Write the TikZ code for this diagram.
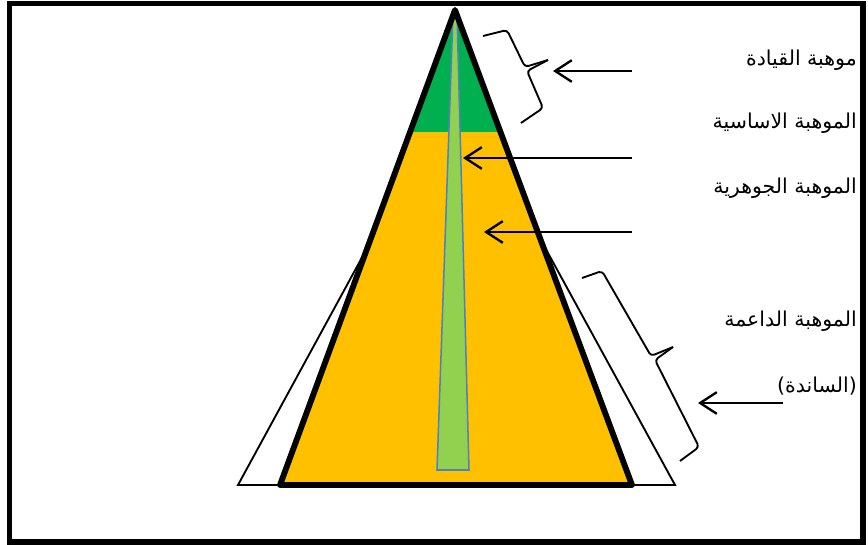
\documentclass[tikz,border=0pt]{standalone}
\usepackage{fontspec}
\newfontfamily\arabicfont[Script=Arabic]{DejaVu Sans}
\TeXXeTstate=1
\usepackage{tikz}
\usetikzlibrary{arrows.meta}

\definecolor{topgreen}{HTML}{00B050}
\definecolor{coreorange}{HTML}{FFC000}
\definecolor{stemgreen}{HTML}{92D050}
\definecolor{stemblue}{HTML}{4F81BD}

\begin{document}
\begin{tikzpicture}[
        x=0.03cm, y=-0.03cm,
        txt/.style={anchor=east, inner sep=0pt,
                    font=\arabicfont\fontsize{17.5}{20}\selectfont},
        arr/.style={-{Straight Barb[length=5mm, width=6.5mm]}, line width=2pt},
        brc/.style={line width=1.6pt, rounded corners=3pt}
    ]
    \useasboundingbox (0,0) rectangle (868,545);
    % Frame
    \draw[line width=4.5pt] (9.5,3.5) rectangle (863,542);

    % Pyramid
    \coordinate (apex) at (455,10);
    \coordinate (bl) at (280,485);
    \coordinate (br) at (632,485);
    \draw[line width=1.6pt, fill=white] (238,485) -- (456,85) -- (675,485) -- cycle;
    \fill[coreorange] (apex) -- (bl) -- (br) -- cycle;
    \begin{scope}
        \clip (apex) -- (bl) -- (br) -- cycle;
        \fill[topgreen] (0,0) rectangle (868,132);
    \end{scope}
    \draw[stemblue, line width=1.3pt, fill=stemgreen]
        (453,14) -- (457,14) -- (469,470) -- (437,470) -- cycle;
    \draw[line width=5pt, line join=round] (apex) -- (bl) -- (br) -- cycle;

    % Braces
    \draw[brc] (483,36) -- (507,30) -- (525,67) -- (548,60);
    \draw[brc] (548,60) -- (527,71) -- (543,108) -- (521,123);
    \draw[brc] (582,278) -- (602,271) -- (651,356) -- (673,347);
    \draw[brc] (673,347) -- (655,360) -- (699,447) -- (680,461);

    % Labels
    \node[txt] (lead)  at (857,60)  {\beginR موهبة القيادة\endR};
    \node[txt] (basic) at (857,123) {\beginR الموهبة الاساسية\endR};
    \node[txt] (core)  at (857,188) {\beginR الموهبة الجوهرية\endR};
    \node[txt] (supp)  at (857,321) {\beginR الموهبة الداعمة\endR};
    \node[txt] (back)  at (857,386) {\beginR (الساندة)\endR};

    % Arrows
    \coordinate (l1) at (632,71);  \coordinate (t1) at (553,71);
    \coordinate (l2) at (632,158); \coordinate (t2) at (463,158);
    \coordinate (l3) at (632,232); \coordinate (t3) at (484,232);
    \coordinate (l4) at (783,403); \coordinate (t4) at (698,403);
    \draw[arr] (l1) -- (t1); \draw[arr] (l2) -- (t2);
    \draw[arr] (l3) -- (t3); \draw[arr] (l4) -- (t4);
\end{tikzpicture}
\end{document}
